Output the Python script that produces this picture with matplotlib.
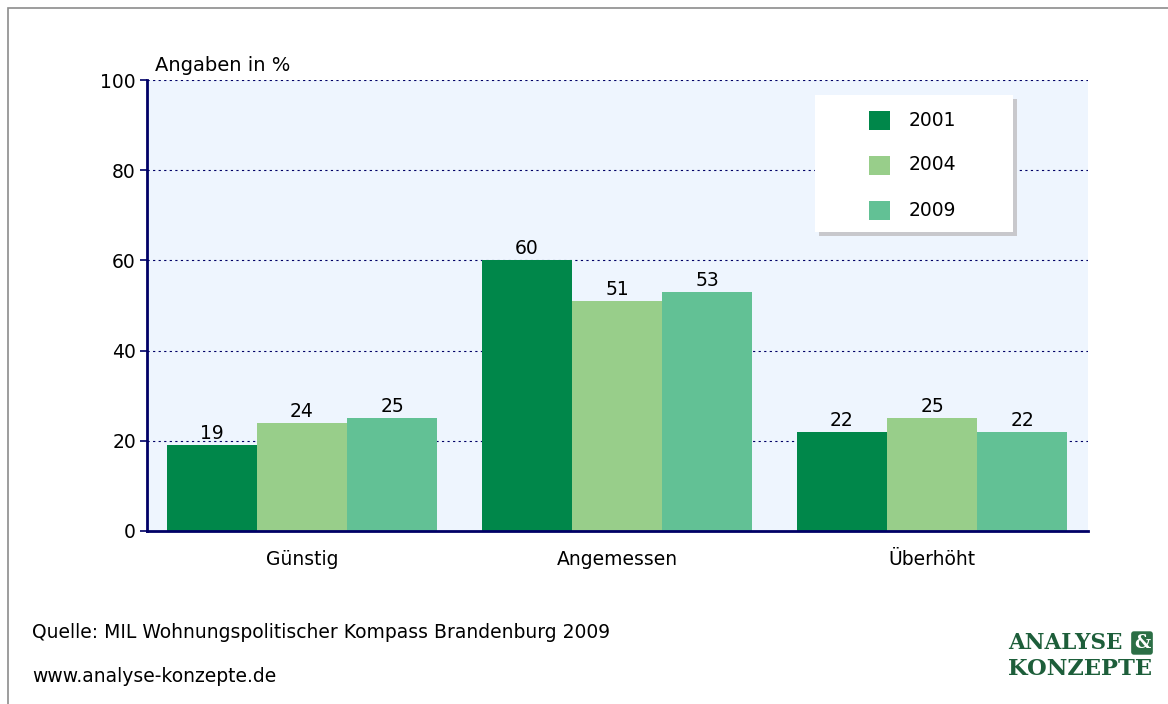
import numpy as np
import matplotlib.pyplot as plt
from matplotlib.patches import Rectangle

categories = ['Günstig', 'Angemessen', 'Überhöht']
years = ['2001', '2004', '2009']
values_2001 = [19, 60, 22]
values_2004 = [24, 51, 25]
values_2009 = [25, 53, 22]
yticks = [0, 20, 40, 60, 80, 100]

colors = ['#00874a', '#98ce8a', '#62c195']
navy = '#000066'

plt.rcParams['font.family'] = ['DejaVu Sans']

fig = plt.figure(figsize=(11.68, 7.04), dpi=100)
ax = fig.add_axes([147 / 1168, 1 - 531 / 704, 941 / 1168, 451 / 704])
ax.set_facecolor('#eef5fe')

x = np.arange(len(categories))
w = 0.286
series = [values_2001, values_2004, values_2009]
for i, vals in enumerate(series):
    bars = ax.bar(x + (i - 1) * w, vals, width=w, color=colors[i],
                  label=years[i], zorder=3)
    for b, v in zip(bars, vals):
        ax.text(b.get_x() + b.get_width() / 2, v + 0.5, str(v),
                ha='center', va='bottom', fontsize=13.5, zorder=4)

ax.set_xlim(-0.492, 2.495)
ax.set_ylim(0, 100)
ax.set_yticks(yticks)
ax.set_xticks(x)
ax.set_xticklabels(categories)
ax.tick_params(axis='x', length=0, pad=14, labelsize=13.5)
ax.tick_params(axis='y', length=5, width=1.2, color=navy, pad=3, labelsize=13.5)

for y in yticks[1:]:
    ax.axhline(y, color=navy, linestyle=(0, (2, 3)), linewidth=0.8, zorder=2)

for s in ['top', 'right']:
    ax.spines[s].set_visible(False)
for s in ['left', 'bottom']:
    ax.spines[s].set_color(navy)
    ax.spines[s].set_linewidth(2)
    ax.spines[s].set_zorder(5)

ax.text(0.0085, 1.01, 'Angaben in %', transform=ax.transAxes,
        fontsize=14, ha='left', va='bottom')

# legend box with a drop shadow
lx0, ly0, lx1, ly1 = 815, 95, 1013, 232
shadow = Rectangle(((lx0 + 4) / 1168, 1 - (ly1 + 4) / 704),
                   (lx1 - lx0) / 1168, (ly1 - ly0) / 704,
                   transform=fig.transFigure, facecolor='#c8c8cc',
                   edgecolor='none', zorder=6)
box = Rectangle((lx0 / 1168, 1 - ly1 / 704),
                (lx1 - lx0) / 1168, (ly1 - ly0) / 704,
                transform=fig.transFigure, facecolor='white',
                edgecolor='none', zorder=7)
fig.patches.extend([shadow, box])
for i, yr in enumerate(years):
    cy = 120 + i * 45
    fig.patches.append(Rectangle((869 / 1168, 1 - (cy + 10) / 704),
                                 21 / 1168, 19 / 704,
                                 transform=fig.transFigure,
                                 facecolor=colors[i], edgecolor='none',
                                 zorder=8))
    fig.text(909 / 1168, 1 - cy / 704, yr, fontsize=13.5, va='center',
             ha='left', zorder=9)

# outer frame
fig.patches.append(Rectangle((8 / 1168, -0.05), 1.1, 1 - 8 / 704 + 0.05,
                             transform=fig.transFigure, facecolor='none',
                             edgecolor='#8c8c8c', linewidth=1.2, zorder=1))

fig.text(32 / 1168, 1 - 632 / 704, 'Quelle: MIL Wohnungspolitischer Kompass Brandenburg 2009',
         fontsize=13.5, va='center', ha='left')
fig.text(32 / 1168, 1 - 676 / 704, 'www.analyse-konzepte.de',
         fontsize=13.5, va='center', ha='left')

# logo
logo_green = '#1d5e3a'
fig.text(1008 / 1168, 1 - 643 / 704, 'ANALYSE', fontsize=15.5, fontweight='bold',
         family='DejaVu Serif', color=logo_green, va='center', ha='left')
fig.text(1142 / 1168, 1 - 643 / 704, '&', fontsize=13, fontweight='bold',
         family='DejaVu Serif', color='white', va='center', ha='center',
         bbox=dict(boxstyle='round,pad=0.15', facecolor='#2b6e45',
                   edgecolor='none'))
fig.text(1008 / 1168, 1 - 669 / 704, 'KONZEPTE', fontsize=16.3, fontweight='bold',
         family='DejaVu Serif', color=logo_green, va='center', ha='left')

fig.savefig('out.png', dpi=100)
